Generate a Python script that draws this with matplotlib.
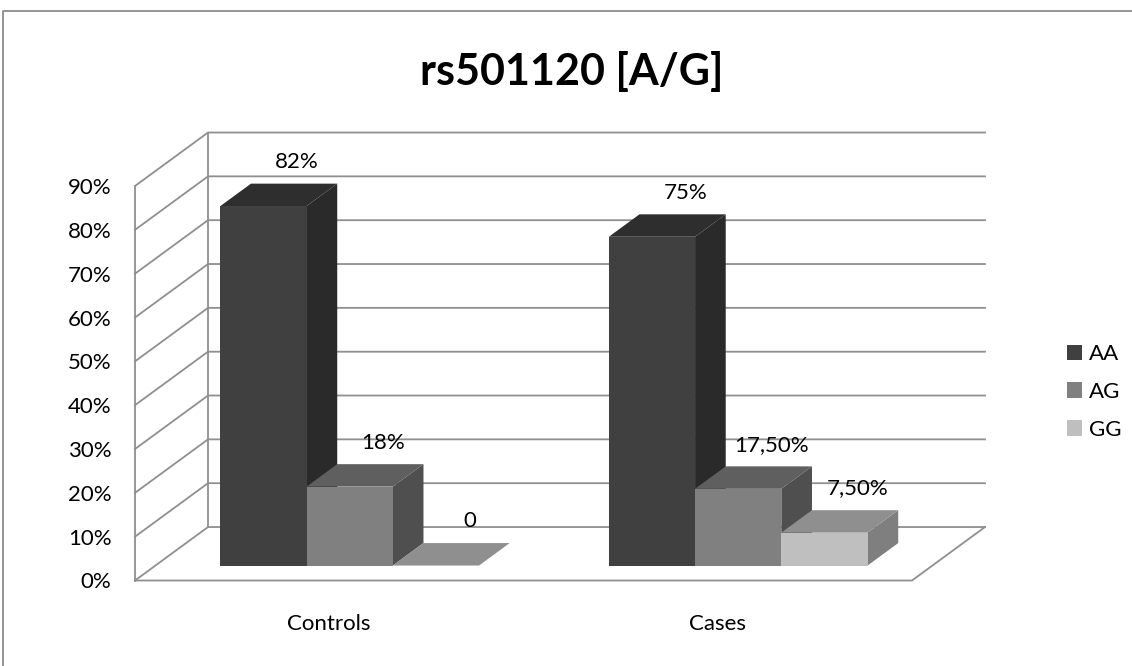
import matplotlib.pyplot as plt
from matplotlib.patches import Polygon, Patch
from matplotlib.ticker import FuncFormatter

plt.rcParams['font.family'] = ['Lato', 'DejaVu Sans']

# genotype frequencies (%)
categories = ['Controls', 'Cases']
genotypes = ['AA', 'AG', 'GG']
aa = [82, 75]
ag = [18, 17.5]
gg = [0, 7.5]
value_labels = [['82%', '75%'], ['18%', '17,50%'], ['0', '7,50%']]
yticks = list(range(0, 100, 10))

# front, top and side shades for each genotype
front_col = ['#404040', '#808080', '#bfbfbf']
top_col = ['#2e2e2e', '#5f5f5f', '#8f8f8f']
side_col = ['#2a2a2a', '#4f4f4f', '#7f7f7f']
grid_col = '#8f8f8f'
fs = 16

fig = plt.figure(figsize=(11.32, 6.66), dpi=100)
ax = fig.add_axes([135 / 1132, 85.5 / 666, 777 / 1132, 394.5 / 666])
ax.set_xlim(0, 2)
ax.set_ylim(0, 90)

# oblique offset of the back wall, in data units
dx, dy = 0.1879, 12.2
f0, f1 = 0.28, 0.70          # bar front / back depth
w = 0.222                    # bar width

for s in ax.spines.values():
    s.set_visible(False)

# walls and gridlines
lw = 1.3
for v in yticks:
    ax.plot([0, dx, 2 + dx], [v, v + dy, v + dy], color=grid_col, lw=lw,
            clip_on=False, zorder=1)
ax.plot([0, 0], [0, 90], color=grid_col, lw=lw, clip_on=False, zorder=1)
ax.plot([dx, dx], [dy, 90 + dy], color=grid_col, lw=lw, clip_on=False, zorder=1)
ax.plot([0, 2, 2 + dx], [0, 0, dy], color=grid_col, lw=lw, clip_on=False, zorder=1)

series = [aa, ag, gg]
for i in range(len(categories)):
    for j, vals in enumerate(series):
        v = vals[i]
        x0 = i + 0.5 - 1.5 * w + j * w + f0 * dx
        x1 = x0 + w
        y0 = f0 * dy
        bx = (f1 - f0) * dx
        by = (f1 - f0) * dy
        side = [(x1, y0), (x1 + bx, y0 + by), (x1 + bx, y0 + by + v), (x1, y0 + v)]
        top = [(x0, y0 + v), (x1, y0 + v), (x1 + bx, y0 + by + v), (x0 + bx, y0 + by + v)]
        front = [(x0, y0), (x1, y0), (x1, y0 + v), (x0, y0 + v)]
        if v > 0:
            ax.add_patch(Polygon(side, closed=True, fc=side_col[j], ec='none',
                                 clip_on=False, zorder=2 + j))
            ax.add_patch(Polygon(top, closed=True, fc=top_col[j], ec='none',
                                 clip_on=False, zorder=2 + j))
            ax.add_patch(Polygon(front, closed=True, fc=front_col[j], ec='none',
                                 clip_on=False, zorder=2 + j))
        else:
            ax.add_patch(Polygon(top, closed=True, fc=top_col[j], ec='none',
                                 clip_on=False, zorder=2 + j))
        ax.annotate(value_labels[j][i], ((x0 + x1) / 2 + bx, v + dy),
                    xytext=(2, 4), textcoords='offset points', annotation_clip=False,
                    ha='center', va='center', fontsize=fs, color='black', zorder=10)

ax.set_yticks(yticks)
ax.yaxis.set_major_formatter(FuncFormatter(lambda v, p: f'{v:.0f}%'))
ax.set_xticks([0.5, 1.5])
ax.set_xticklabels(categories)
ax.tick_params(axis='y', length=0, pad=17, labelsize=fs)
ax.tick_params(axis='x', length=0, pad=24, labelsize=fs)

handles = [Patch(fc=c, ec='none') for c in front_col]
fig.legend(handles, genotypes, loc='center left', bbox_to_anchor=(1058 / 1132, 1 - 392 / 666),
           frameon=False, fontsize=fs, handlelength=0.7, handleheight=0.7,
           handletextpad=0.3, labelspacing=0.8, borderaxespad=0)

fig.text(572 / 1132, 1 - 72 / 666, 'rs501120 [A/G]', ha='center', va='center',
         fontsize=31, fontweight='bold')

# chart area border (left and top edges)
fig.add_artist(plt.Line2D([3 / 1132, 3 / 1132, 1], [0, 1 - 11 / 666, 1 - 11 / 666],
                          transform=fig.transFigure, color='#8c8c8c', lw=1.3))

fig.savefig('out.png', dpi=100)
